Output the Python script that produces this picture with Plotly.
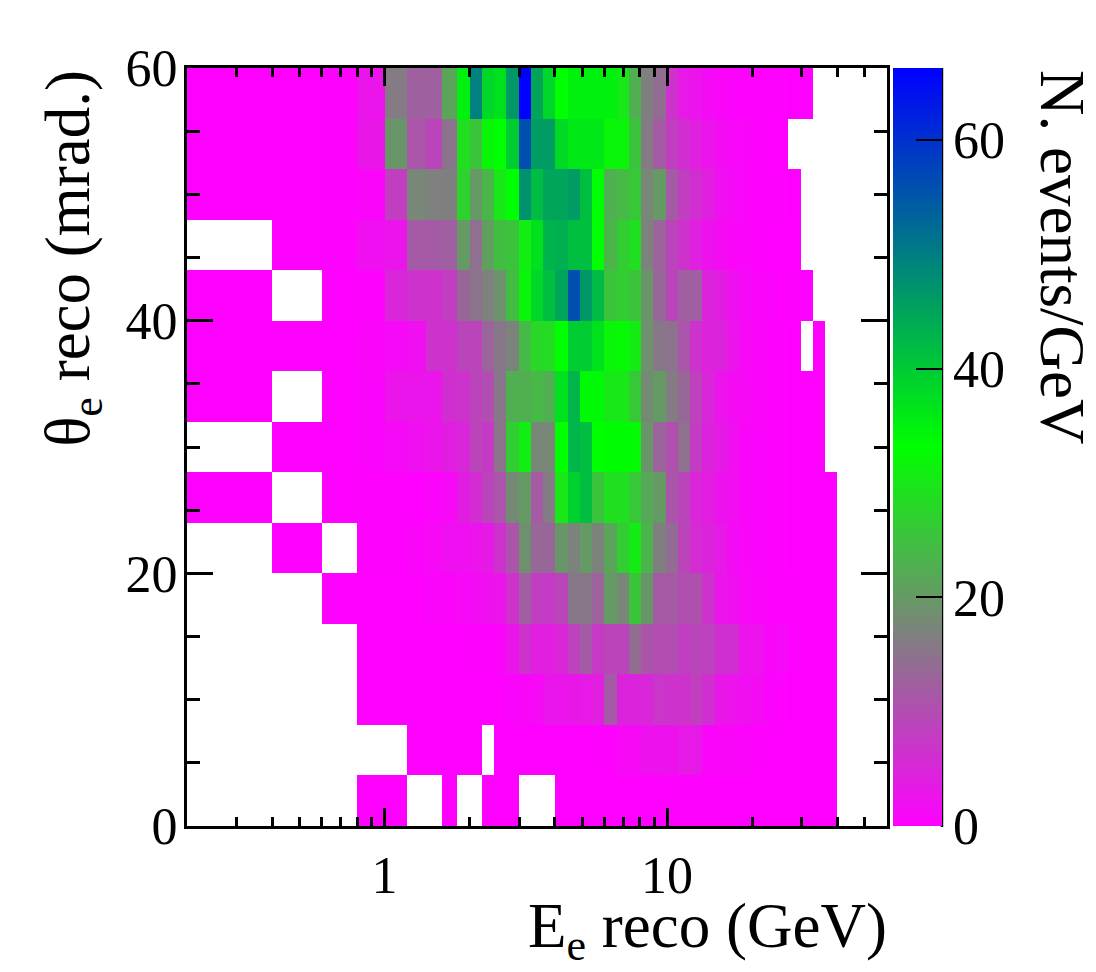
import plotly.graph_objects as go

# energy bin edges (GeV), 0.2 steps up to 2 then log bins up to 40
e_edges = [0.2, 0.4, 0.6, 0.8, 1.0, 1.2, 1.4, 1.6, 1.8, 2.0,
           2.21, 2.442, 2.699, 2.982, 3.295, 3.641, 4.024, 4.446, 4.913, 5.429,
           6.0, 6.63, 7.326, 8.095, 8.944, 9.885, 10.92, 12.07, 13.34, 14.74,
           16.29, 18.0, 19.89, 21.98, 24.29, 26.84, 29.66, 32.78, 36.2, 40.0]
theta_edges = [0, 4, 8, 12, 16, 20, 24, 28, 32, 36, 40, 44, 48, 52, 56, 60]

n = None
# one list per theta row, 39 energy bins each, None = empty bin
z_00_04 = [n, n, n, .1, .1, n, n, .1, n, n,
           .1, .1, .1, n, n, n, .1, .1, .1, .1,
           .1, .1, .1, .1, .1, .2, .2, .2, .2, .2,
           .1, .1, .1, .1, .1, .1, .1, .1, .1]
z_04_08 = [n, n, n, n, n, .1, .1, .1, .1, .1,
           n, .1, .1, .1, .1, .1, .1, .1, .1, .2,
           .3, 1, 1, 2.4, 2.4, 2.4, 3.2, 3.2, .6, .6,
           .8, .4, .3, .2, .1, .1, .1, .1, .1]
z_08_12 = [n, n, n, .1, .1, .1, .1, .1, .1, .1,
           .1, .2, .5, .8, 1, 2.6, 2.6, 3, 3.3, 4,
           11.7, 4.5, 4.5, 5, 7, 6.5, 6.5, 8, 6, 3,
           2.5, 2, 1.5, .5, .2, .1, .1, .1, .1]
z_12_16 = [n, n, n, .1, .1, .1, .1, .1, .2, .2,
           .3, .6, 2.6, 6.5, 4, 4, 5, 8.4, 11.7, 7.5,
           9, 9, 14.3, 11, 10, 10, 8, 9, 8.5, 6,
           6, 2.5, 2.5, .8, 1, .2, .1, .1, .1]
z_16_20 = [n, n, .1, .1, .1, .2, .5, .7, 1.2, 1.5,
           2, 2.6, 6.5, 12.3, 8, 7.5, 9, 15.5, 15.5, 13,
           20, 17.5, 25.5, 19.5, 11.7, 11.7, 10.4, 10.4, 6.5, 2.6,
           2, 1, .6, .4, .3, .2, .1, .1, .1]
z_20_24 = [n, .1, n, .2, .3, .6, 1, 2, 2, 2.5,
           3.3, 6.5, 11, 18.7, 13.5, 13.5, 19.5, 17, 20, 17,
           21.5, 26.6, 30.5, 23.4, 16.5, 14, 9, 5.7, 4.5, 3.2,
           1.5, .8, .5, .3, .2, .1, .1, .1, .1]
z_24_28 = [.1, n, .1, .2, .2, .1, .4, 1, 3.8, 5.7,
           9, 11, 18, 20, 11.7, 16, 30, 39, 41.5, 25.5,
           29, 29, 26, 22, 20, 11, 9, 5, 3.8, 2.3,
           1.8, .8, .5, .3, .2, .1, .1, .1, .1]
z_28_32 = [n, .1, .1, .5, 1.2, 2, 2.6, 3.8, 5, 9,
           7.5, 15, 26.6, 31, 17.5, 17.5, 33.2, 42.8, 41.5, 33.2,
           33.5, 33.5, 32.5, 19.5, 13, 10.4, 14.5, 7.8, 4.6, 3.5,
           2, .8, .5, .3, .2, .1, .1, .1, n]
z_32_36 = [.1, n, .1, .5, 2.6, 2.6, 2.6, 6, 6.5, 9,
           10, 15.5, 22.7, 22.7, 24, 22.7, 37, 42.8, 33.8, 33.8,
           30, 30, 26, 18, 20, 16, 13.5, 8.5, 5, 2.5,
           1.5, 1, .6, .4, .2, .1, .1, .1, n]
z_36_40 = [.1, .1, .1, .6, 1.2, 2, 6.5, 6.5, 9, 9,
           13, 15.5, 17, 24, 28, 28.6, 33.2, 39.6, 39.6, 37,
           32, 32.5, 30.5, 18.8, 15.5, 14.8, 11, 6.5, 4.5, 4.5,
           2.6, 1, .6, .4, .2, .1, n, .1, n]
z_40_44 = [.1, n, .1, .3, 5, 6.5, 6.5, 8, 13.5, 15,
           16.8, 19, 24.7, 32, 38.4, 41.5, 45, 56, 46.5, 42,
           25.5, 26.6, 25.5, 19.5, 13.5, 9, 12.3, 12.3, 4.6, 3.8,
           2, 1.2, .7, .5, .3, .2, .1, n, n]
z_44_48 = [n, .1, .2, 2, 2.6, 11.7, 11.7, 12.3, 20, 14.5,
           20.8, 24.7, 25.5, 31, 37, 43, 43.5, 41.5, 41.5, 33.2,
           23.4, 26.6, 29, 17, 13, 9, 6.5, 4, 2.3, 1.5,
           .8, .5, .3, .2, .1, .1, n, n, n]
z_48_52 = [.1, .1, .2, .6, 8, 17.5, 16.8, 16.5, 27.3, 20,
           23.4, 30, 33.2, 47.5, 42, 45, 45, 46, 41.5, 33.2,
           22.7, 24, 26, 17.5, 20, 11.7, 8, 6, 4, 2,
           1.2, .7, .4, .3, .2, .1, n, n, n]
z_52_56 = [.1, .1, .2, 3, 19.5, 11, 9, 15, 29, 25.5,
           32, 33.2, 39.6, 56, 46, 46, 38, 36, 36, 36,
           32, 32, 25.5, 16, 11.7, 8, 6, 4, 2.6, 1.6,
           1, .6, .4, .2, .1, n, n, n, n]
z_56_60 = [.1, .1, .2, 2.6, 16, 12.5, 12.5, 21.5, 35, 49.7,
           38.4, 37, 46.6, 66.3, 44.9, 38.5, 33.2, 35, 35, 35,
           35, 30, 22.7, 16.5, 14.3, 6.5, 3.2, 2.5, 1.3, .8,
           .5, .3, .3, .2, .2, .1, .1, n, n]

z_rows = [z_00_04, z_04_08, z_08_12, z_12_16, z_16_20, z_20_24, z_24_28, z_28_32,
          z_32_36, z_36_40, z_40_44, z_44_48, z_48_52, z_52_56, z_56_60]

e_ticks = [1, 10]
e_minor = [0.3, 0.4, 0.5, 0.6, 0.7, 0.8, 0.9, 2, 3, 4, 5, 6, 7, 8, 9, 20, 30, 40, 50]
theta_ticks = [0, 20, 40, 60]
cbar_ticks = [0, 20, 40, 60]

W, H = 1096, 972
L, R, T, B = 186.7, 887, 68, 826
SERIF = "Liberation Serif"


def px(v):
    return (v - L) / (R - L)


def py(v):
    return (B - v) / (B - T)


fig = go.Figure(go.Heatmap(
    x=e_edges, y=theta_edges, z=z_rows,
    zmin=0, zmax=66.3,
    colorscale=[[0, "rgb(255,0,255)"], [0.5, "rgb(0,255,0)"], [1, "rgb(0,0,255)"]],
    colorbar=dict(
        x=px(893), xanchor="left", xpad=0,
        y=0, yanchor="bottom", ypad=0,
        len=1, lenmode="fraction",
        thickness=49, thicknessmode="pixels",
        outlinewidth=0,
        tickmode="array", tickvals=cbar_ticks,
        ticks="inside", ticklen=26, tickwidth=2, tickcolor="black",
        tickfont=dict(family=SERIF, size=52, color="black"),
    ),
))

fig.update_layout(
    width=W, height=H,
    margin=dict(l=L, r=W - R, t=T, b=H - B, pad=0),
    paper_bgcolor="white", plot_bgcolor="white",
    xaxis=dict(
        type="log", range=[-0.69897, 1.77815],
        showgrid=False, zeroline=False,
        showline=True, linecolor="black", linewidth=3, mirror="ticks",
        tickmode="array", tickvals=e_ticks, ticktext=["1", "10"],
        ticks="inside", ticklen=18, tickwidth=2.5, tickcolor="black",
        minor=dict(tickmode="array", tickvals=e_minor, ticks="inside", ticklen=9,
                   tickwidth=2.5, tickcolor="black", showgrid=False),
        tickfont=dict(family=SERIF, size=52, color="black"),
        ticklabelstandoff=2,
    ),
    yaxis=dict(
        range=[0, 60],
        showgrid=False, zeroline=False,
        showline=True, linecolor="black", linewidth=3, mirror="ticks",
        tickmode="array", tickvals=theta_ticks,
        ticks="inside", ticklen=26, tickwidth=2.5, tickcolor="black",
        minor=dict(dtick=5, ticks="inside", ticklen=13, tickwidth=2.5,
                   tickcolor="black", showgrid=False),
        tickfont=dict(family=SERIF, size=52, color="black"),
        ticklabelstandoff=-4,
    ),
    annotations=[
        dict(text="E<sub>e</sub> reco (GeV)", xref="paper", yref="paper",
             x=px(889), y=py(931), xanchor="right", yanchor="middle", showarrow=False,
             font=dict(family=SERIF, size=63, color="black")),
        dict(text="θ<sub>e</sub> reco (mrad.)", xref="paper", yref="paper",
             x=px(72), y=py(68), xanchor="center", yanchor="top", showarrow=False,
             textangle=-90, font=dict(family=SERIF, size=63, color="black")),
        dict(text="N. events/GeV", xref="paper", yref="paper",
             x=px(1062), y=py(68), xanchor="center", yanchor="top", showarrow=False,
             textangle=90, font=dict(family=SERIF, size=63, color="black")),
    ],
    shapes=[
        dict(type="line", xref="paper", yref="paper",
             x0=px(942), x1=px(942), y0=py(827), y1=py(68),
             line=dict(color="black", width=2.5)),
    ],
)

fig.write_html("out.html", post_script="document.body.style.margin='0';",
               config={"displayModeBar": False})
